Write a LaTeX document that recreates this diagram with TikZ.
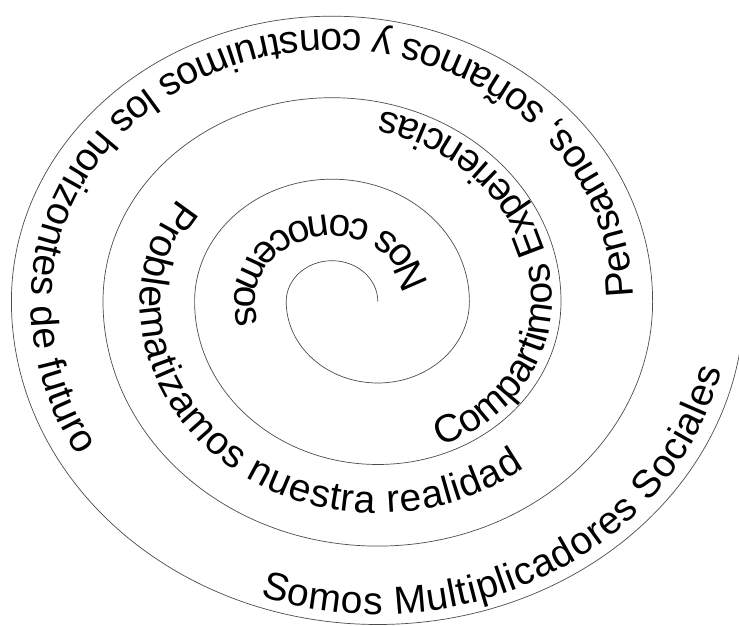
\documentclass[tikz,border=0pt]{standalone}
\usepackage{fontspec}
\setmainfont{Liberation Sans}
\usetikzlibrary{decorations.text}
\newcommand\wordfont{\fontsize{39}{43}\selectfont}
\tikzset{
  spiralline/.style={draw=black!70, line width=0.7pt},
  wordpath/.style={decorate, decoration={text along path, text align=fit to path}},
}
\begin{document}
\begin{tikzpicture}[x=1pt,y=1pt]
\useasboundingbox (0,0) rectangle (739,626);
\fill[white] (0,0) rectangle (739,626);
\clip (0,0) rectangle (739,626);
\coordinate (A) at (332,324.5);
\coordinate (B) at (377.8,324.5);
% spiral
\draw[spiralline] (B)
  arc[start angle=0,end angle=180,x radius=45.8,y radius=40.8]
  arc[start angle=180,end angle=360,x radius=91.6,y radius=81.5]
  arc[start angle=0,end angle=180,x radius=137.4,y radius=122.3]
  arc[start angle=180,end angle=360,x radius=183.2,y radius=163]
  arc[start angle=0,end angle=180,x radius=229,y radius=203.8]
  arc[start angle=180,end angle=360,x radius=274.8,y radius=244.6]
  arc[start angle=0,end angle=180,x radius=320.6,y radius=285.3]
  arc[start angle=180,end angle=360,x radius=366.4,y radius=323];
% texts
\path[wordpath, decoration={text={|\wordfont|Nos conocemos}}]
  ([shift={(12:97 and 86.3)}]A)
  arc[start angle=12,end angle=180,x radius=97,y radius=86.3]
  arc[start angle=180,end angle=192,x radius=142.8,y radius=127.1];
\path[wordpath, decoration={text={|\wordfont|Compartimos Experiencias}}]
  ([shift={(-69:174.2 and 155)}]B)
  arc[start angle=-69,end angle=0,x radius=174.2,y radius=155]
  arc[start angle=0,end angle=77,x radius=220,y radius=195.8];
\path[wordpath, decoration={text={|\wordfont|Problematizamos nuestra realidad}}]
  ([shift={(143:192 and 170.9)}]A)
  arc[start angle=143,end angle=180,x radius=192,y radius=170.9]
  arc[start angle=180,end angle=308,x radius=237.8,y radius=211.6];
\path[wordpath, decoration={text={|\wordfont|Pensamos, soñamos y construimos los horizontes de futuro}}]
  ([shift={(1:301 and 272)}]A)
  arc[start angle=1,end angle=180,x radius=301,y radius=272]
  arc[start angle=180,end angle=210,x radius=346.8,y radius=308.7];
\path[wordpath, decoration={text={|\wordfont|Somos Multiplicadores Sociales}}]
  ([shift={(250.5:352.5 and 312.7)}]B)
  arc[start angle=250.5,end angle=347.4,x radius=352.5,y radius=312.7];
\end{tikzpicture}
\end{document}
